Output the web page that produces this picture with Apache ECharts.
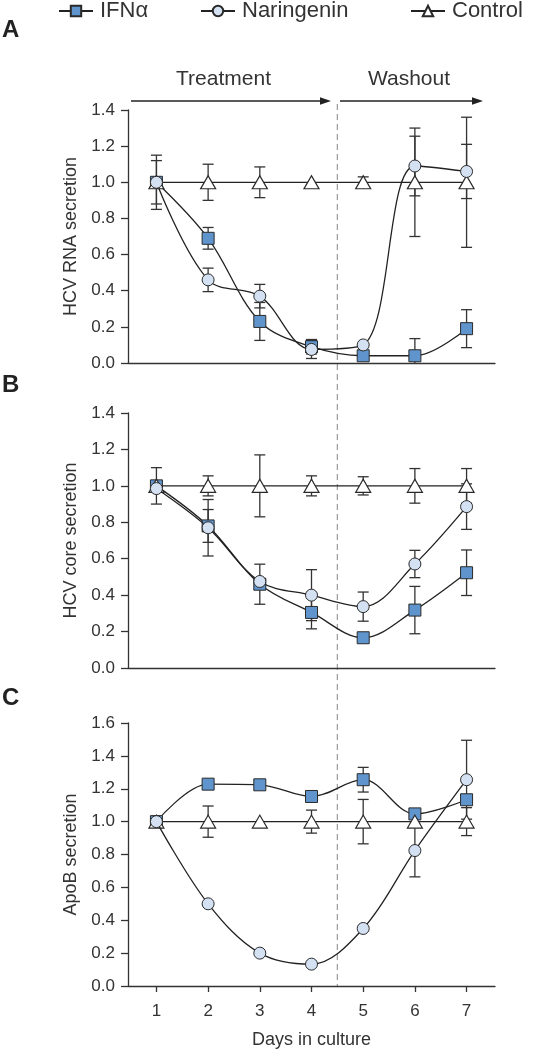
<!DOCTYPE html>
<html>
<head>
<meta charset="utf-8">
<script src="https://cdn.jsdelivr.net/npm/echarts@6/dist/echarts.min.js"></script>
<style>
html,body{margin:0;padding:0;background:#fff;}
#c{width:535px;height:1050px;}
</style>
</head>
<body>
<div id="c"></div>
<script>
// ---------------- data ----------------
const days = [1, 2, 3, 4, 5, 6, 7];
const seriesNames = ['IFNα', 'Naringenin', 'Control'];
const yTitles = ['HCV RNA secretion', 'HCV core secretion', 'ApoB secretion'];
const yMaxes = [1.4, 1.4, 1.6];
const xTitle = 'Days in culture';
const panelLetters = ['A', 'B', 'C'];
const phaseLabels = ['Treatment', 'Washout'];
const washoutDay = 4.5;

// Panel A: HCV RNA secretion
const aIfn    = [1.00, 0.69, 0.23, 0.09, 0.04, 0.04, 0.19];
const aIfnErr = [0.12, 0.06, 0.105, 0.04, 0, 0.095, 0.105];
const aNar    = [1.00, 0.46, 0.37, 0.075, 0.10, 1.09, 1.06];
const aNarErr = [0, 0.065, 0.065, 0.05, 0, 0.165, 0.15];
const aCtl    = [1, 1, 1, 1, 1, 1, 1];
const aCtlErr = [0.15, 0.10, 0.085, 0, 0.03, 0.30, 0.36];

// Panel B: HCV core secretion
const bIfn    = [1.00, 0.78, 0.46, 0.305, 0.166, 0.318, 0.523];
const bIfnErr = [0, 0.09, 0.11, 0.09, 0, 0.13, 0.125];
const bNar    = [0.985, 0.77, 0.475, 0.40, 0.337, 0.571, 0.886];
const bNarErr = [0, 0.155, 0, 0.14, 0.08, 0.075, 0.125];
const bCtl    = [1, 1, 1, 1, 1, 1, 1];
const bCtlErr = [0.10, 0.055, 0.17, 0.055, 0.05, 0.095, 0.095];

// Panel C: ApoB secretion
const cIfn    = [1.00, 1.228, 1.224, 1.153, 1.255, 1.047, 1.133];
const cIfnErr = [0, 0, 0, 0, 0.075, 0.02, 0];
const cNar    = [1.00, 0.50, 0.20, 0.133, 0.35, 0.824, 1.255];
const cNarErr = [0, 0, 0, 0, 0, 0.16, 0.24];
const cCtl    = [1, 1, 1, 1, 1, 1, 1];
const cCtlErr = [0, 0.095, 0, 0.07, 0.135, 0.03, 0.085];

const panels = [
  {ifn: aIfn, ifnErr: aIfnErr, nar: aNar, narErr: aNarErr, ctl: aCtl, ctlErr: aCtlErr},
  {ifn: bIfn, ifnErr: bIfnErr, nar: bNar, narErr: bNarErr, ctl: bCtl, ctlErr: bCtlErr},
  {ifn: cIfn, ifnErr: cIfnErr, nar: cNar, narErr: cNarErr, ctl: cCtl, ctlErr: cCtlErr}
];

// ---------------- styles ----------------
const FONT = '"Liberation Sans", Arial, Helvetica, sans-serif';
const TXT = '#333';
const LINE = '#222';
const gridTops = [110, 413, 723];
const gridHeights = [253, 255, 264];
const gridLeft = 128, gridWidth = 367;

const chart = echarts.init(document.getElementById('c'), null, {renderer: 'canvas'});

function pairs(vals) { return days.map((d, i) => [d, vals[i]]); }
function errData(vals, errs) { return days.map((d, i) => [d, vals[i], errs[i]]); }

function renderErr(params, api) {
  const x = api.value(0), y = api.value(1), e = api.value(2);
  if (!e) return null;
  const lowVal = y - e;
  const t = api.coord([x, y + e]);
  const b = api.coord([x, Math.max(0, lowVal)]);
  const w = 5.5;
  const st = {stroke: '#333', lineWidth: 1.3, fill: null};
  const children = [
    {type: 'line', shape: {x1: t[0], y1: t[1], x2: b[0], y2: b[1]}, style: st},
    {type: 'line', shape: {x1: t[0] - w, y1: t[1], x2: t[0] + w, y2: t[1]}, style: st}
  ];
  if (lowVal > 0) {
    children.push({type: 'line', shape: {x1: b[0] - w, y1: b[1], x2: b[0] + w, y2: b[1]}, style: st});
  }
  return {type: 'group', children: children};
}

const styles = {
  'IFNα': {symbol: 'rect', symbolSize: 12, itemStyle: {color: '#5f94cc', borderColor: '#2a2a2a', borderWidth: 1}, z: 3},
  'Naringenin': {symbol: 'circle', symbolSize: 12, itemStyle: {color: '#d4e1f2', borderColor: '#2a2a2a', borderWidth: 1}, z: 5},
  'Control': {symbol: 'triangle', symbolSize: [15, 13], itemStyle: {color: '#ffffff', borderColor: '#2a2a2a', borderWidth: 1.2}, z: 4}
};

const grids = [], xAxes = [], yAxes = [], series = [];
panels.forEach((p, i) => {
  grids.push({left: gridLeft, top: gridTops[i], width: gridWidth, height: gridHeights[i], containLabel: false});
  xAxes.push({
    type: 'value', gridIndex: i, min: 0.45, max: 7.55,
    axisLine: {show: true, lineStyle: {color: '#333', width: 1.3}},
    axisTick: {show: i === 2, customValues: days, length: 6, lineStyle: {color: '#333', width: 1.3}},
    axisLabel: {show: i === 2, customValues: days, fontSize: 17, color: TXT, fontFamily: FONT, margin: 17},
    splitLine: {show: false},
    name: i === 2 ? xTitle : '', nameLocation: 'middle', nameGap: 45,
    nameTextStyle: {fontSize: 18, color: TXT, fontFamily: FONT}
  });
  yAxes.push({
    type: 'value', gridIndex: i, min: 0, max: yMaxes[i], interval: 0.2,
    axisLine: {show: true, lineStyle: {color: '#333', width: 1.3}},
    axisTick: {show: true, length: 7, lineStyle: {color: '#333', width: 1.3}},
    axisLabel: {fontSize: 17, color: TXT, fontFamily: FONT, margin: 13, formatter: v => v.toFixed(1)},
    splitLine: {show: false},
    name: yTitles[i], nameLocation: 'middle', nameGap: 47,
    nameTextStyle: {fontSize: 18, color: TXT, fontFamily: FONT}
  });
  const groups = [
    ['IFNα', p.ifn, p.ifnErr],
    ['Control', p.ctl, p.ctlErr],
    ['Naringenin', p.nar, p.narErr]
  ];
  groups.forEach(([name, vals, errs]) => {
    series.push({
      type: 'custom', name: name + ' err', xAxisIndex: i, yAxisIndex: i,
      renderItem: renderErr, data: errData(vals, errs), encode: {x: 0, y: 1}, z: 1, silent: true
    });
  });
  groups.forEach(([name, vals]) => {
    const s = styles[name];
    series.push({
      type: 'line', name: name, xAxisIndex: i, yAxisIndex: i,
      data: pairs(vals), smooth: name === 'Control' ? false : 0.35,
      symbol: s.symbol, symbolSize: s.symbolSize, showAllSymbol: true,
      itemStyle: s.itemStyle, lineStyle: {color: LINE, width: 1.3},
      z: s.z, animation: false
    });
  });
});

const legendLefts = [58, 200, 410];
const legends = seriesNames.map((n, k) => ({
  data: [n], left: legendLefts[k], top: 0, padding: 0,
  itemWidth: 34, itemHeight: 13, itemGap: 0,
  textStyle: {fontSize: 22, color: TXT, fontFamily: FONT, padding: [0, 0, 0, 2]},
  selectedMode: false
}));

chart.setOption({
  animation: false,
  backgroundColor: '#fff',
  textStyle: {fontFamily: FONT},
  legend: legends,
  grid: grids, xAxis: xAxes, yAxis: yAxes, series: series
});

// overlay: panel letters, phase arrows, washout dashed line
const xw = chart.convertToPixel({xAxisIndex: 0}, washoutDay);
const arrowY = 101;
function arrow(x1, x2, y) {
  return [
    {type: 'line', shape: {x1: x1, y1: y, x2: x2 - 8, y2: y}, style: {stroke: '#222', lineWidth: 1.3}},
    {type: 'polygon', shape: {points: [[x2, y], [x2 - 11, y - 3.8], [x2 - 11, y + 3.8]]}, style: {fill: '#222'}}
  ];
}
const letterYs = [30, 385, 698];
const graphics = [];
panelLetters.forEach((L, i) => graphics.push({
  type: 'text', x: 2, y: letterYs[i],
  style: {text: L, font: 'bold 24px ' + FONT, fill: '#222', verticalAlign: 'middle'}
}));
graphics.push({type: 'text', x: 223.5, y: 79, style: {text: phaseLabels[0], font: '21px ' + FONT, fill: TXT, align: 'center', verticalAlign: 'middle'}});
graphics.push({type: 'text', x: 409, y: 79, style: {text: phaseLabels[1], font: '21px ' + FONT, fill: TXT, align: 'center', verticalAlign: 'middle'}});
arrow(131, 331, arrowY).forEach(g => graphics.push(g));
arrow(340, 483, arrowY).forEach(g => graphics.push(g));
graphics.push({
  type: 'line', z: 0,
  shape: {x1: xw, y1: 104, x2: xw, y2: gridTops[2] + gridHeights[2]},
  style: {stroke: '#9a9a9a', lineWidth: 1.2, lineDash: [6, 4]}
});
chart.setOption({graphic: graphics});
</script>
</body>
</html>
